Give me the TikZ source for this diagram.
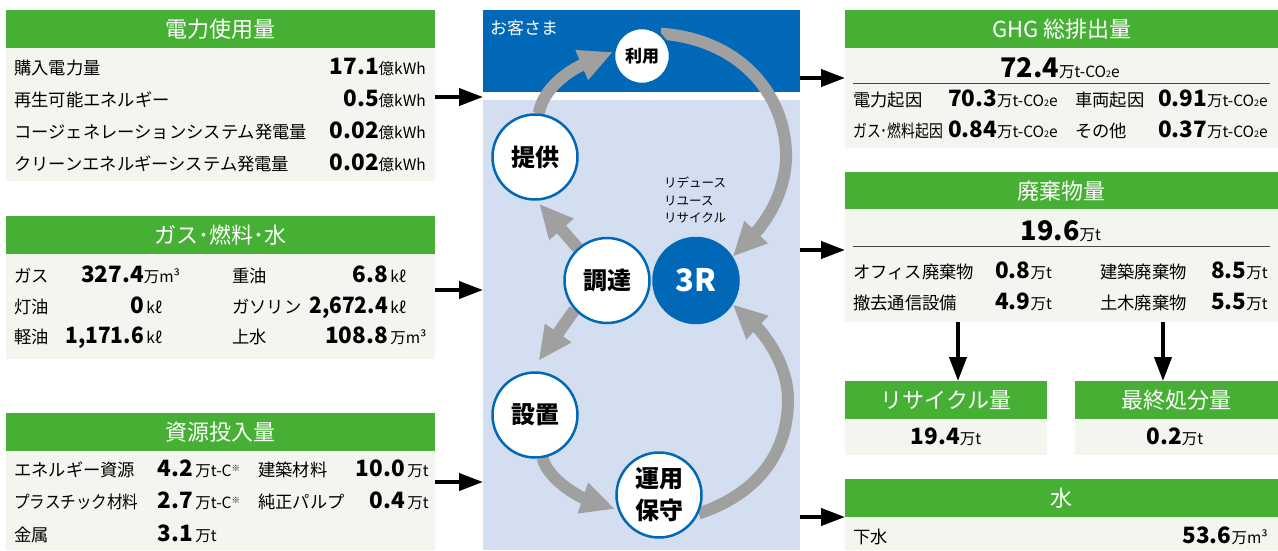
\documentclass[tikz,border=0pt]{standalone}
\usepackage{fontspec}
\setmainfont{Noto Sans CJK JP}
\usetikzlibrary{arrows.meta,calc}
\definecolor{hg}{RGB}{70,176,53}
\definecolor{bodyc}{RGB}{242,246,238}
\definecolor{dblue}{RGB}{0,104,183}
\definecolor{lblue}{RGB}{211,222,240}
\definecolor{grayc}{RGB}{160,160,160}
\definecolor{sepc}{RGB}{70,70,70}
\pgfdeclarelayer{back}
\pgfdeclarelayer{mid}
\pgfsetlayers{back,mid,main}
\newcommand\hdf{\fontsize{22}{26}\selectfont}
\newcommand\lbf{\fontsize{17.3}{21}\selectfont}
\newcommand\nmf{\bfseries\fontsize{22.5}{26}\selectfont}
\newcommand\bgf{\bfseries\fontsize{27}{30}\selectfont}
\newcommand\unf{\mdseries\fontsize{15.5}{18}\selectfont}
\newcommand\stf{\bfseries\fontsize{24}{32}\selectfont}
\newcommand\cnum[1]{\scalebox{0.93}[1]{\nmf #1}}
\newcommand\coe{万t-CO\raisebox{-0.3pt}{\fontsize{9}{10}\selectfont 2}e}
\newcommand\kil{\,kℓ}
\newcommand\tcx{万t-C\raisebox{5pt}{\fontsize{8.5}{9}\selectfont ※}}
\begin{document}
\begin{tikzpicture}[x=1pt,y=-1pt,
  hdr/.style={fill=hg, inner sep=0, anchor=north west, text=white, font=\hdf},
  bod/.style={fill=bodyc, inner sep=0, anchor=north west},
  lbl/.style={anchor=base west, inner sep=0, font=\lbf},
  valr/.style={anchor=base east, inner sep=0},
  vall/.style={anchor=base west, inner sep=0},
  valc/.style={anchor=base, inner sep=0},
  blk/.style={line width=4pt, -{Triangle[length=24pt,width=17pt]}},
  garr/.style={line width=12pt, draw=grayc, -{Triangle[length=34pt,width=30pt]}},
  stage/.style={circle, draw=dblue, line width=2.5pt, fill=white, minimum size=85pt, inner sep=0, font=\stf},
  sepl/.style={draw=sepc, line width=1pt}]
\useasboundingbox (0,0) rectangle (1278,550);
\begin{pgfonlayer}{back}
% left panels
\node[hdr,minimum width=429pt,minimum height=38pt] (p1h) at (6,10) {電力使用量};
\node[bod,minimum width=429pt,minimum height=133pt] (p1b) at (6,48) {};
\node[hdr,minimum width=429pt,minimum height=38pt] (p2h) at (6,216) {ガス･燃料･水};
\node[bod,minimum width=429pt,minimum height=105pt] (p2b) at (6,254) {};
\node[hdr,minimum width=429pt,minimum height=38pt] (p3h) at (6,413) {資源投入量};
\node[bod,minimum width=429pt,minimum height=99pt] (p3b) at (6,451) {};
% centre
\node[fill=dblue, inner sep=0, anchor=north west, minimum width=317pt, minimum height=82pt] (ct) at (483,10) {};
\node[fill=lblue, inner sep=0, anchor=north west, minimum width=317pt, minimum height=450pt] (cl) at (483,100) {};
% right panels
\node[hdr,minimum width=433pt,minimum height=38pt] (gh) at (845,10) {GHG 総排出量};
\node[bod,minimum width=433pt,minimum height=100pt] (gb) at (845,48) {};
\node[hdr,minimum width=433pt,minimum height=37pt] (wh) at (845,172) {廃棄物量};
\node[bod,minimum width=433pt,minimum height=113pt] (wb) at (845,209) {};
\node[hdr,minimum width=202pt,minimum height=38pt] (rch) at (845,381) {リサイクル量};
\node[bod,minimum width=202pt,minimum height=36pt] (rcb) at (845,419) {};
\node[hdr,minimum width=203pt,minimum height=38pt] (fdh) at (1075,381) {最終処分量};
\node[bod,minimum width=203pt,minimum height=36pt] (fdb) at (1075,419) {};
\node[hdr,minimum width=433pt,minimum height=38pt] (wth) at (845,479) {水};
\node[bod,minimum width=433pt,minimum height=33pt] (wtb) at (845,517) {};
\end{pgfonlayer}

% panel 1
\node[lbl] (p1l1) at (14,74) {購入電力量};
\node[valr] (p1v1) at (426,74) {{\nmf 17.1}{\unf 億kWh}};
\node[lbl] (p1l2) at (14,106) {再生可能エネルギー};
\node[valr] (p1v2) at (426,106) {{\nmf 0.5}{\unf 億kWh}};
\node[lbl] (p1l3) at (14,138) {コージェネレーションシステム発電量};
\node[valr] (p1v3) at (426,138) {{\nmf 0.02}{\unf 億kWh}};
\node[lbl] (p1l4) at (14,170) {クリーンエネルギーシステム発電量};
\node[valr] (p1v4) at (426,170) {{\nmf 0.02}{\unf 億kWh}};

% panel 2
\node[lbl] (p2l1) at (14,282) {ガス};
\node[valr] (p2v1) at (144,282) {{\nmf 327.4}\rlap{\unf 万m³}};
\node[lbl] (p2l2) at (14,313) {灯油};
\node[valr] (p2v2) at (144,313) {{\nmf 0}\rlap{\unf\kil}};
\node[lbl] (p2l3) at (14,343) {軽油};
\node[valr] (p2v3) at (144,343) {\cnum{1,171.6}\rlap{\unf\kil}};
\node[lbl] (p2l4) at (232,282) {重油};
\node[valr] (p2v4) at (388,282) {{\nmf 6.8}\rlap{\unf\kil}};
\node[lbl] (p2l5) at (232,313) {ガソリン};
\node[valr] (p2v5) at (388,313) {\cnum{2,672.4}\rlap{\unf\kil}};
\node[lbl] (p2l6) at (232,343) {上水};
\node[valr] (p2v6) at (388,343) {{\nmf 108.8}\rlap{\unf\,万m³}};

% panel 3
\node[lbl] (p3l1) at (14,476) {エネルギー資源};
\node[valr] (p3v1) at (193,476) {{\nmf 4.2}\rlap{\unf\,\tcx}};
\node[lbl] (p3l2) at (14,508) {\scalebox{0.9}[1]{プラスチック材料}};
\node[valr] (p3v2) at (193,508) {{\nmf 2.7}\rlap{\unf\,\tcx}};
\node[lbl] (p3l3) at (14,541) {金属};
\node[valr] (p3v3) at (193,541) {{\nmf 3.1}\rlap{\unf\,万t}};
\node[lbl] (p3l4) at (258,476) {建築材料};
\node[valr] (p3v4) at (405,476) {{\nmf 10.0}\rlap{\unf\,万t}};
\node[lbl] (p3l5) at (258,508) {純正パルプ};
\node[valr] (p3v5) at (405,508) {{\nmf 0.4}\rlap{\unf\,万t}};

% centre
\node[anchor=west, inner sep=0, text=white, font=\fontsize{17}{20}\selectfont] (cust) at (490,28) {お客さま};
\node[stage] (teikyo) at (535,157) {提供};
\node[stage, minimum size=56pt, font=\bfseries\fontsize{17}{20}\selectfont] (riyou) at (642,56) {利用};
\node[stage] (chotatsu) at (607,280.5) {調達};
\node[stage, fill=dblue, text=white, font=\bfseries\fontsize{31}{34}\selectfont] (rr) at (696,280.5) {3R};
\node[stage] (setchi) at (535,415) {設置};
\node[stage, align=center] (unyo) at (659,495) {運用\\保守};
\node[anchor=north west, align=left, inner sep=0, font=\fontsize{12.5}{17.5}\selectfont] (rtext) at (664,177) {リデュース\\リユース\\リサイクル};

\begin{pgfonlayer}{mid}
\draw[garr] (teikyo.85) .. controls (543,88) and (570,70) .. (riyou.172);
\draw[garr] (riyou.50) .. controls (745,40) and (788,100) .. (786,160) .. controls (784,200) and (760,228) .. (rr.33);
\draw[garr, shorten >=4pt] (chotatsu.132) -- (teikyo.-88);
\draw[garr, shorten >=13pt] (chotatsu.222) -- (setchi.95);
\draw[garr, shorten >=3pt] (setchi.-80) .. controls (548,480) and (580,497) .. (unyo.200);
\draw[garr] (unyo.-25) .. controls (755,495) and (788,455) .. (788,400) .. controls (788,360) and (759,329) .. (rr.-33);
\end{pgfonlayer}

% right panels content
\node[valc] (gtot) at (1060,77) {{\bgf 72.4}{\unf\coe}};
\draw[sepl] (853,83) -- (1270,83);
\node[lbl] (gl1) at (853,106) {電力起因};
\node[valr] (gv1) at (1058,106) {{\nmf 70.3}{\unf\coe}};
\node[lbl] (gl2) at (853,137) {\scalebox{0.8}[1]{ガス･燃料起因}};
\node[valr] (gv2) at (1058,137) {{\nmf 0.84}{\unf\coe}};
\node[lbl] (gl3) at (1075,106) {車両起因};
\node[valr] (gv3) at (1268,106) {{\nmf 0.91}{\unf\coe}};
\node[lbl] (gl4) at (1075,137) {その他};
\node[valr] (gv4) at (1268,137) {{\nmf 0.37}{\unf\coe}};

\node[valc] (wtot) at (1061,240) {{\bgf 19.6}{\unf 万t}};
\draw[sepl] (853,246) -- (1270,246);
\node[lbl] (wl1) at (853,278) {オフィス廃棄物};
\node[vall] (wv1) at (995,278) {{\nmf 0.8}{\unf 万t}};
\node[lbl] (wl2) at (853,309) {撤去通信設備};
\node[vall] (wv2) at (995,309) {{\nmf 4.9}{\unf 万t}};
\node[lbl] (wl3) at (1100,278) {建築廃棄物};
\node[valr] (wv3) at (1268,278) {{\nmf 8.5}{\unf 万t}};
\node[lbl] (wl4) at (1100,309) {土木廃棄物};
\node[valr] (wv4) at (1268,309) {{\nmf 5.5}{\unf 万t}};

\node[valc] (rcv) at (946,444) {{\nmf 19.4}{\unf 万t}};
\node[valc] (fdv) at (1175,444) {{\nmf 0.2}{\unf 万t}};
\node[lbl] (wtl) at (853,543) {下水};
\node[valr] (wtv) at (1268,543) {{\nmf 53.6}{\unf 万m³}};

% black arrows
\coordinate (a1) at (0,97);
\coordinate (a2) at (0,290);
\coordinate (a3) at (0,482);
\coordinate (b1) at (0,78);
\coordinate (b2) at (0,250);
\coordinate (b3) at (0,517);
\coordinate (d1) at (958,0);
\coordinate (d2) at (1163,0);
\draw[blk] (p1b.east |- a1) -- (cl.west |- a1);
\draw[blk] (p2b.east |- a2) -- (cl.west |- a2);
\draw[blk] (p3b.east |- a3) -- (cl.west |- a3);
\draw[blk] (ct.east |- b1) -- (gb.west |- b1);
\draw[blk] (cl.east |- b2) -- (wb.west |- b2);
\draw[blk] (cl.east |- b3) -- (wtb.west |- b3);
\draw[blk] (wb.south -| d1) -- (rch.north -| d1);
\draw[blk] (wb.south -| d2) -- (fdh.north -| d2);
\end{tikzpicture}
\end{document}
